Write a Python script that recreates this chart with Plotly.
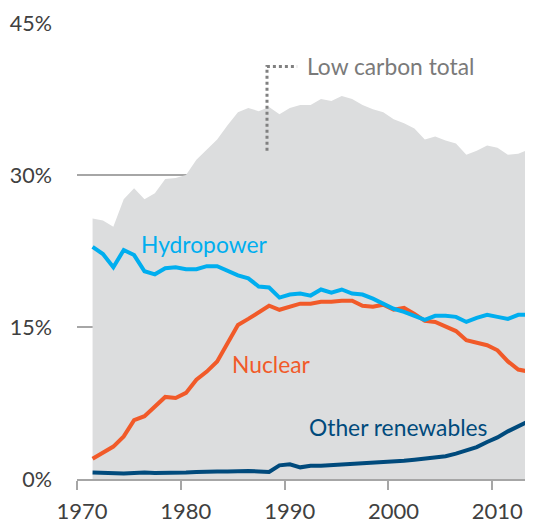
import plotly.graph_objects as go

years = list(range(1971, 2014))

low_carbon_total = [25.7, 25.5, 24.9, 27.6, 28.7, 27.6, 28.2, 29.6, 29.7, 30.0,
                    31.5, 32.5, 33.5, 34.9, 36.2, 36.6, 36.3, 36.7, 36.0, 36.6,
                    36.9, 36.9, 37.5, 37.3, 37.8, 37.5, 36.9, 36.5, 36.2, 35.5,
                    35.1, 34.6, 33.5, 33.8, 33.4, 33.1, 32.0, 32.4, 32.9, 32.7,
                    32.0, 32.1, 32.5]

hydropower = [22.9, 22.2, 20.9, 22.6, 22.1, 20.5, 20.2, 20.8, 20.9, 20.7,
              20.7, 21.0, 21.0, 20.5, 20.1, 19.8, 19.0, 18.9, 17.9, 18.2,
              18.3, 18.1, 18.7, 18.4, 18.7, 18.3, 18.2, 17.8, 17.3, 16.8,
              16.5, 16.1, 15.7, 16.1, 16.1, 16.0, 15.5, 15.9, 16.2, 16.0,
              15.8, 16.2, 16.2]

nuclear = [2.0, 2.6, 3.2, 4.2, 5.8, 6.2, 7.2, 8.1, 8.0, 8.5,
           9.8, 10.6, 11.6, 13.4, 15.2, 15.8, 16.4, 17.1, 16.7, 17.0,
           17.3, 17.3, 17.5, 17.5, 17.6, 17.6, 17.1, 17.0, 17.2, 16.7,
           16.9, 16.3, 15.6, 15.5, 15.0, 14.6, 13.7, 13.5, 13.2, 12.7,
           11.6, 10.8, 10.6]

other_renewables = [0.65, 0.6, 0.55, 0.55, 0.6, 0.65, 0.6, 0.6, 0.6, 0.65,
                    0.7, 0.75, 0.75, 0.75, 0.8, 0.8, 0.75, 0.7, 1.35, 1.45,
                    1.15, 1.3, 1.3, 1.35, 1.4, 1.45, 1.5, 1.55, 1.65, 1.7,
                    1.8, 1.9, 2.0, 2.1, 2.25, 2.5, 2.8, 3.15, 3.65, 4.1,
                    4.7, 5.2, 5.7]

x_tick_vals = [1970, 1980, 1990, 2000, 2010]
x_tick_text = ["1970", "1980", "1990", "2000", "2010"]
y_tick_vals = [0, 15, 30, 45]
y_tick_text = ["0%", "15%", "30%", "45%"]

FONT = "Lato, 'Open Sans', sans-serif"
C_AREA = "#dcddde"
C_HYDRO = "#00aeef"
C_NUC = "#f15a29"
C_OTHER = "#004a7c"
C_GRID = "#a6a6a6"
C_TEXT = "#404040"
C_LABEL = "#7a7a7a"

# data plotted at mid-year
xs = [y + 0.5 for y in years]

fig = go.Figure()
fig.add_trace(go.Scatter(x=xs, y=low_carbon_total, mode="lines", fill="tozeroy",
                         fillcolor=C_AREA, line=dict(width=0, color=C_AREA),
                         hoverinfo="skip", showlegend=False))
fig.add_trace(go.Scatter(x=xs, y=other_renewables, mode="lines",
                         line=dict(color=C_OTHER, width=4), showlegend=False))
fig.add_trace(go.Scatter(x=xs, y=nuclear, mode="lines",
                         line=dict(color=C_NUC, width=4), showlegend=False))
fig.add_trace(go.Scatter(x=xs, y=hydropower, mode="lines",
                         line=dict(color=C_HYDRO, width=4), showlegend=False))

# dotted leader for "Low carbon total"
fig.add_shape(type="path", xref="x", yref="y",
              path="M 1988.3,32.4 L 1988.3,40.7 L 1991.2,40.7",
              line=dict(color="#808080", width=3, dash="dot"))

ann_font = dict(family=FONT, size=22.8)
fig.add_annotation(x=1991.95, y=40.8, text="Low carbon total", showarrow=False,
                   xanchor="left", yanchor="middle", font=dict(ann_font, color=C_LABEL))
fig.add_annotation(x=1976.0, y=23.2, text="Hydropower", showarrow=False,
                   xanchor="left", yanchor="middle", font=dict(ann_font, color=C_HYDRO))
fig.add_annotation(x=1984.7, y=11.3, text="Nuclear", showarrow=False,
                   xanchor="left", yanchor="middle", font=dict(ann_font, color=C_NUC))
fig.add_annotation(x=1992.15, y=5.1, text="Other renewables", showarrow=False,
                   xanchor="left", yanchor="middle", font=dict(ann_font, color=C_OTHER))

# the page body adds an 8px margin, so the figure is sized/margined to compensate
fig.update_layout(
    width=525, height=514,
    margin=dict(l=69, r=0, t=15, b=43, autoexpand=False),
    paper_bgcolor="white", plot_bgcolor="white",
    font=dict(family=FONT, size=21, color=C_TEXT),
    showlegend=False,
)
fig.update_xaxes(range=[1970, 2013.92], tickvals=x_tick_vals, ticktext=x_tick_text,
                 automargin=False,
                 showgrid=False, zeroline=False, showline=True, linecolor=C_GRID,
                 linewidth=2, ticks="outside", ticklen=9, tickwidth=2, tickcolor=C_GRID,
                 ticklabelshift=5, ticklabelstandoff=3,
                 tickfont=dict(family=FONT, size=22, color=C_TEXT))
fig.update_yaxes(range=[0, 45], tickvals=y_tick_vals, ticktext=y_tick_text,
                 automargin=False,
                 showgrid=True, gridcolor=C_GRID, gridwidth=2, zeroline=False,
                 showline=False, ticks="", ticklabelstandoff=24,
                 tickfont=dict(family=FONT, size=21.5, color=C_TEXT))

fig.write_html("out.html")
